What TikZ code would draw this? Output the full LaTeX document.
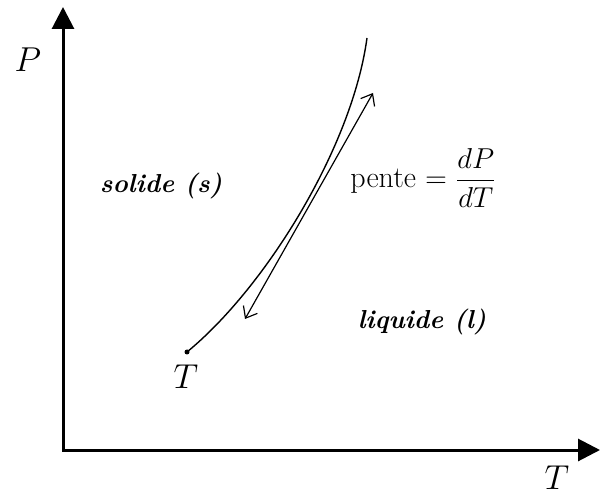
\documentclass[tikz,border=0pt]{standalone}
\usepackage{amsmath}
\usetikzlibrary{arrows.meta}
\begin{document}
\begin{tikzpicture}[x=0.5pt,y=-0.5pt,
  axis/.style={line width=1.5pt,{Triangle[length=11pt,width=11pt]}-{Triangle[length=11pt,width=11pt]}},
  curve/.style={line width=0.7pt},
  tangent/.style={line width=0.6pt,{Straight Barb[length=5pt,width=8pt]}-{Straight Barb[length=5pt,width=8pt]}},
  lbl/.style={font=\fontsize{15}{18}\selectfont},
  phase/.style={font=\fontsize{13}{16}\selectfont\bfseries\itshape},
  axlbl/.style={font=\fontsize{17}{20}\selectfont,inner sep=1pt}]
\useasboundingbox (0,0) rectangle (600,497);
\coordinate (O) at (63,450);
\coordinate (Ptop) at (63,7);
\coordinate (Tend) at (600,450);
\draw[axis] (Ptop) -- (O) -- (Tend);
\node[axlbl] (Plbl) at (28,60) {$P$};
\node[axlbl] (Tlbl) at (557,478) {$T$};
\node[circle,fill,inner sep=0pt,minimum size=2.5pt] (tp) at (187,352) {};
\node[axlbl] (tpl) at (186,377) {$T$};
\coordinate (ctop) at (367,38);
\draw[curve] (tp.center) .. controls (265,288) and (352,148) .. (ctop);
\coordinate (ta) at (245,319);
\coordinate (tb) at (373,93);
\draw[tangent] (ta) -- (tb);
\node[phase] (sol) at (161,186) {solide (s)};
\node[phase] (liq) at (422,322) {liquide (l)};
\node[lbl,anchor=base west,inner sep=0pt] (pente) at (350,188) {pente $=\dfrac{dP}{dT}$};
\end{tikzpicture}
\end{document}
